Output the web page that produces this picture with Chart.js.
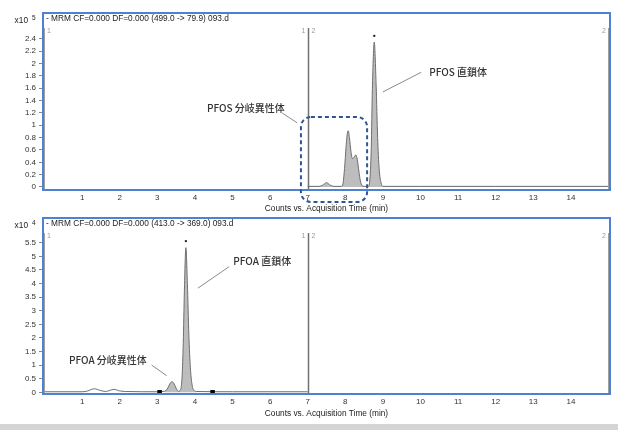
<!DOCTYPE html>
<html>
<head>
<meta charset="utf-8">
<script src="https://cdn.jsdelivr.net/npm/chart.js@4.4.0/dist/chart.umd.min.js"></script>
<style>
    html, body { margin: 0; padding: 0; background: #fff; }
    body { width: 618px; height: 430px; position: relative; overflow: hidden; }
    #pfos_chart { position: absolute; left: 0; top: 0; }
    #pfoa_chart { position: absolute; left: 0; top: 205px; }
    #strip { position: absolute; left: 0; top: 424px; width: 618px; height: 6px; background: #d5d5d5; }
</style>
</head>
<body>
<canvas id="pfos_chart" width="618" height="215"></canvas>
<canvas id="pfoa_chart" width="618" height="225"></canvas>
<div id="strip"></div>
<script>
// PFOS  MRM 499.0 -> 79.9  (counts x10^5)
var pfosTime   = [7.00, 7.30, 7.40, 7.50, 7.60, 7.70, 7.90, 7.94, 7.98, 8.02, 8.06, 8.08, 8.11, 8.15, 8.19, 8.23, 8.28, 8.32, 8.36, 8.40, 8.45, 8.50, 8.61, 8.65, 8.69, 8.72, 8.77, 8.82, 8.86, 8.90, 8.95, 9.00, 10.0, 12.0, 15.0];
var pfosCounts = [0.01, 0.01, 0.03, 0.07, 0.03, 0.01, 0.01, 0.06, 0.30, 0.65, 0.89, 0.91, 0.80, 0.58, 0.46, 0.48, 0.52, 0.44, 0.26, 0.10, 0.02, 0.01, 0.01, 0.10, 0.62, 1.58, 2.35, 1.65, 0.80, 0.30, 0.07, 0.01, 0.01, 0.01, 0.01];
var pfosApex   = [8.77, 2.45];
var pfosTicks  = [0, 0.2, 0.4, 0.6, 0.8, 1, 1.2, 1.4, 1.6, 1.8, 2, 2.2, 2.4];

// PFOA  MRM 413.0 -> 369.0  (counts x10^4)
var pfoaTime   = [0.00, 1.00, 1.15, 1.32, 1.48, 1.62, 1.74, 1.85, 1.97, 2.15, 3.00, 3.20, 3.28, 3.34, 3.39, 3.44, 3.50, 3.56, 3.62, 3.66, 3.69, 3.72, 3.76, 3.80, 3.84, 3.88, 3.92, 3.97, 4.05, 5.00, 7.00];
var pfoaCounts = [0.02, 0.02, 0.05, 0.13, 0.07, 0.03, 0.07, 0.11, 0.06, 0.03, 0.02, 0.04, 0.16, 0.33, 0.39, 0.33, 0.15, 0.04, 0.10, 0.60, 1.80, 3.70, 5.32, 4.00, 2.10, 0.90, 0.32, 0.08, 0.03, 0.02, 0.02];
var pfoaApex   = [3.76, 5.56];
var pfoaIntegration = [3.06, 4.47];
var pfoaTicks  = [0, 0.5, 1, 1.5, 2, 2.5, 3, 3.5, 4, 4.5, 5, 5.5];

var timeTicks = [1, 2, 3, 4, 5, 6, 7, 8, 9, 10, 11, 12, 13, 14];
var segmentBreak = 7;

var LABEL_FONT = 'Liberation Sans';
var JP_FONT = '"Noto Sans CJK JP"';

function toPoints(xs, ys) {
    return xs.map(function (x, i) { return { x: x, y: ys[i] }; });
}

// 枠・ヘッダー・注釈
var overlay = {
    id: 'overlay',
    afterDraw: function (chart, args, o) {
        var ctx = chart.ctx, a = chart.chartArea;
        var xs = chart.scales.x, ys = chart.scales.y;
        var innerTop = a.top + 15;
        ctx.save();

        // inner gray frame
        ctx.strokeStyle = '#a0a0a0';
        ctx.lineWidth = 1;
        ctx.beginPath();
        ctx.moveTo(a.left + 1.5, innerTop); ctx.lineTo(a.left + 1.5, a.bottom);
        ctx.moveTo(a.right - 1.5, innerTop); ctx.lineTo(a.right - 1.5, a.bottom);
        ctx.stroke();

        // segment break line
        var bx = Math.round(xs.getPixelForValue(segmentBreak)) + 0.5;
        ctx.strokeStyle = '#707070';
        ctx.lineWidth = 1.5;
        ctx.beginPath(); ctx.moveTo(bx, innerTop); ctx.lineTo(bx, a.bottom); ctx.stroke();

        ctx.fillStyle = '#999';
        ctx.font = '7px "' + LABEL_FONT + '"';
        ctx.textBaseline = 'middle';
        ctx.textAlign = 'left';
        ctx.fillText('1', a.left + 4, innerTop + 3);
        ctx.fillText('2', bx + 3, innerTop + 3);
        ctx.textAlign = 'right';
        ctx.fillText('1', bx - 3, innerTop + 3);
        ctx.fillText('2', a.right - 4, innerTop + 3);

        // header
        ctx.fillStyle = '#222';
        ctx.font = '8.3px "' + LABEL_FONT + '"';
        ctx.textAlign = 'left';
        ctx.fillText(o.header, a.left + 3, a.top + 6);
        ctx.textAlign = 'right';
        ctx.fillText('x10', a.left - 15, a.top + 8);
        ctx.font = '6.5px "' + LABEL_FONT + '"';
        ctx.textAlign = 'left';
        ctx.fillText(o.exponent, a.left - 11, a.top + 5);

        // blue frame
        ctx.strokeStyle = '#4f81d3';
        ctx.lineWidth = 2;
        ctx.strokeRect(a.left, a.top, a.right - a.left, a.bottom - a.top);

        // annotations
        o.notes.forEach(function (n) {
            ctx.strokeStyle = '#8a8a8a';
            ctx.lineWidth = 1;
            ctx.beginPath();
            ctx.moveTo(xs.getPixelForValue(n.from[0]), ys.getPixelForValue(n.from[1]));
            ctx.lineTo(xs.getPixelForValue(n.to[0]), ys.getPixelForValue(n.to[1]));
            ctx.stroke();
            ctx.fillStyle = '#333';
            ctx.font = '500 10px ' + JP_FONT;
            ctx.textAlign = 'left';
            ctx.textBaseline = 'middle';
            ctx.fillText(n.text, xs.getPixelForValue(n.at[0]), ys.getPixelForValue(n.at[1]));
        });

        // dashed box
        if (o.box) {
            var x0 = xs.getPixelForValue(o.box[0]), x1 = xs.getPixelForValue(o.box[1]);
            var y0 = ys.getPixelForValue(o.box[2]), y1 = ys.getPixelForValue(o.box[3]);
            var r = 10;
            ctx.strokeStyle = '#2f5597';
            ctx.lineWidth = 2;
            ctx.setLineDash([4, 3]);
            ctx.beginPath();
            ctx.moveTo(x0 + r, y0);
            ctx.arcTo(x1, y0, x1, y1, r);
            ctx.arcTo(x1, y1, x0, y1, r);
            ctx.arcTo(x0, y1, x0, y0, r);
            ctx.arcTo(x0, y0, x1, y0, r);
            ctx.closePath();
            ctx.stroke();
        }
        ctx.restore();
    }
};

function makeChart(id, datasets, yMin, yMax, yTicks, xAxisHeight, titlePad, overlayOpts) {
    return new Chart(document.getElementById(id), {
        type: 'line',
        data: { datasets: datasets },
        options: {
            responsive: false,
            animation: false,
            devicePixelRatio: 1,
            layout: { padding: { left: 0, right: 8, top: 13, bottom: 0 } },
            plugins: {
                legend: { display: false },
                tooltip: { enabled: false },
                overlay: overlayOpts
            },
            scales: {
                x: {
                    type: 'linear',
                    min: -0.04,
                    max: 15.04,
                    afterBuildTicks: function (s) { s.ticks = timeTicks.map(function (v) { return { value: v }; }); },
                    afterFit: function (s) { s.height = xAxisHeight; },
                    grid: { display: false, drawTicks: false, tickLength: 0 },
                    border: { display: false },
                    ticks: {
                        color: '#333', padding: 3, maxRotation: 0, autoSkip: false,
                        font: { family: LABEL_FONT, size: 8 },
                        callback: function (v) { return String(v); }
                    },
                    title: {
                        display: true,
                        text: 'Counts vs. Acquisition Time (min)',
                        color: '#222',
                        font: { family: LABEL_FONT, size: 8.3 },
                        padding: { top: 0, bottom: titlePad }
                    }
                },
                y: {
                    min: yMin,
                    max: yMax,
                    afterBuildTicks: function (s) { s.ticks = yTicks.map(function (v) { return { value: v }; }); },
                    afterFit: function (s) { s.width = 43; },
                    grid: { drawOnChartArea: false, drawTicks: true, tickLength: 4, color: '#888' },
                    border: { display: true, color: '#888' },
                    ticks: {
                        color: '#333', padding: 3,
                        font: { family: LABEL_FONT, size: 8 },
                        callback: function (v) { return String(v); }
                    }
                }
            }
        },
        plugins: [overlay]
    });
}

var pfosPoints = toPoints(pfosTime, pfosCounts);
makeChart('pfos_chart', [
    {
        data: pfosPoints, order: 1,
        borderColor: '#6e6e6e', borderWidth: 1, pointRadius: 0,
        cubicInterpolationMode: 'monotone',
        fill: { value: 0 }, backgroundColor: '#bdbdbd'
    },
    {
        type: 'scatter', data: [{ x: pfosApex[0], y: pfosApex[1] }], order: 0,
        pointRadius: 1.2, backgroundColor: '#222', borderWidth: 0
    }
], -0.049, 2.82, pfosTicks, 25, 1, {
    header: '- MRM CF=0.000 DF=0.000 (499.0 -> 79.9) 093.d',
    exponent: '5',
    notes: [
        { text: 'PFOS 直鎖体', at: [10.23, 1.86], from: [9.0, 1.54], to: [10.02, 1.86] },
        { text: 'PFOS 分岐異性体', at: [4.32, 1.28], from: [6.32, 1.20], to: [6.72, 1.04] }
    ],
    box: [6.82, 8.58, 1.135, -0.243]
});

var pfoaPoints = toPoints(pfoaTime, pfoaCounts);
var pfoaPeak = pfoaPoints.filter(function (p) { return p.x >= pfoaIntegration[0] && p.x <= pfoaIntegration[1]; });
makeChart('pfoa_chart', [
    {
        data: pfoaPoints, order: 1,
        borderColor: '#6e6e6e', borderWidth: 1, pointRadius: 0,
        cubicInterpolationMode: 'monotone', fill: false
    },
    {
        data: pfoaPeak, order: 2,
        borderWidth: 0, pointRadius: 0,
        cubicInterpolationMode: 'monotone',
        fill: { value: 0 }, backgroundColor: '#bdbdbd'
    },
    {
        type: 'scatter', data: [{ x: pfoaApex[0], y: pfoaApex[1] }], order: 0,
        pointRadius: 1.2, backgroundColor: '#222', borderWidth: 0
    },
    {
        type: 'scatter', data: pfoaIntegration.map(function (t) { return { x: t, y: 0 }; }), order: 0,
        pointStyle: 'rect', pointRadius: 3.2, backgroundColor: '#000', borderWidth: 0
    }
], -0.0625, 6.41, pfoaTicks, 36, 11, {
    header: '- MRM CF=0.000 DF=0.000 (413.0 -> 369.0) 093.d',
    exponent: '4',
    notes: [
        { text: 'PFOA 直鎖体', at: [5.02, 4.83], from: [4.08, 3.83], to: [4.91, 4.62] },
        { text: 'PFOA 分岐異性体', at: [0.65, 1.18], from: [2.85, 1.00], to: [3.25, 0.61] }
    ]
});
</script>
</body>
</html>
